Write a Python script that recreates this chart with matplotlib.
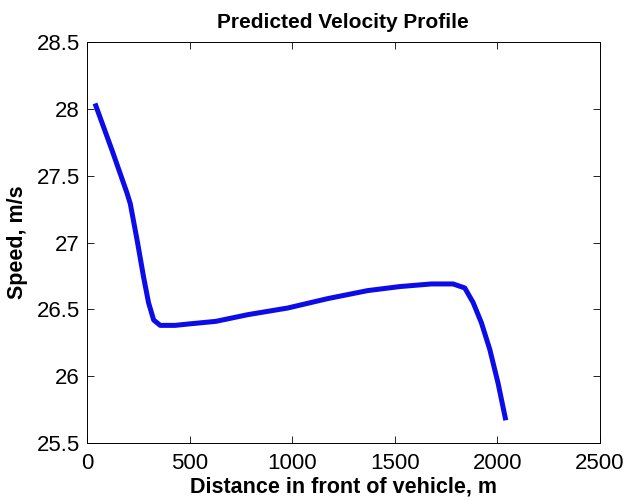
import matplotlib
matplotlib.use('Agg')
import matplotlib.pyplot as plt

# distance in front of vehicle (m) and predicted speed (m/s)
distance = [39, 122, 195, 211, 244, 276, 300, 325, 357, 430, 492, 628, 784, 979,
            1173, 1368, 1523, 1679, 1785, 1842, 1883, 1923, 1964, 2004, 2042]
speed = [28.04, 27.69, 27.37, 27.29, 27.02, 26.74, 26.55, 26.42, 26.38, 26.38, 26.39, 26.41,
         26.46, 26.51, 26.58, 26.64, 26.67, 26.69, 26.69, 26.66, 26.55, 26.40, 26.20, 25.95, 25.67]

x_ticks = [0, 500, 1000, 1500, 2000, 2500]
y_ticks = [25.5, 26, 26.5, 27, 27.5, 28, 28.5]
y_labels = ['25.5', '26', '26.5', '27', '27.5', '28', '28.5']

plt.rcParams['font.family'] = ['Liberation Sans', 'DejaVu Sans']

fig = plt.figure(figsize=(6.26, 5), dpi=100)
ax = fig.add_axes([0.139, 0.114, 0.819, 0.802])

ax.plot(distance, speed, color='#0c0ce8', linewidth=3.6, solid_capstyle='butt')

ax.set_xlim(0, 2500)
ax.set_ylim(25.5, 28.5)
ax.set_xticks(x_ticks)
ax.set_yticks(y_ticks)
ax.set_yticklabels(y_labels)
ax.tick_params(direction='in', top=True, right=True, labelsize=16, length=5, width=0.6)
ax.tick_params(axis='x', pad=7)
ax.tick_params(axis='y', pad=5)
for s in ax.spines.values():
    s.set_linewidth(0.7)

ax.set_title('Predicted Velocity Profile', fontsize=15, fontweight='bold', pad=10)
ax.set_xlabel('Distance in front of vehicle, m', fontsize=15.5, fontweight='bold', labelpad=2)
ax.set_ylabel('Speed, m/s', fontsize=15.5, fontweight='bold', labelpad=6)

fig.savefig('out.png', dpi=100)
